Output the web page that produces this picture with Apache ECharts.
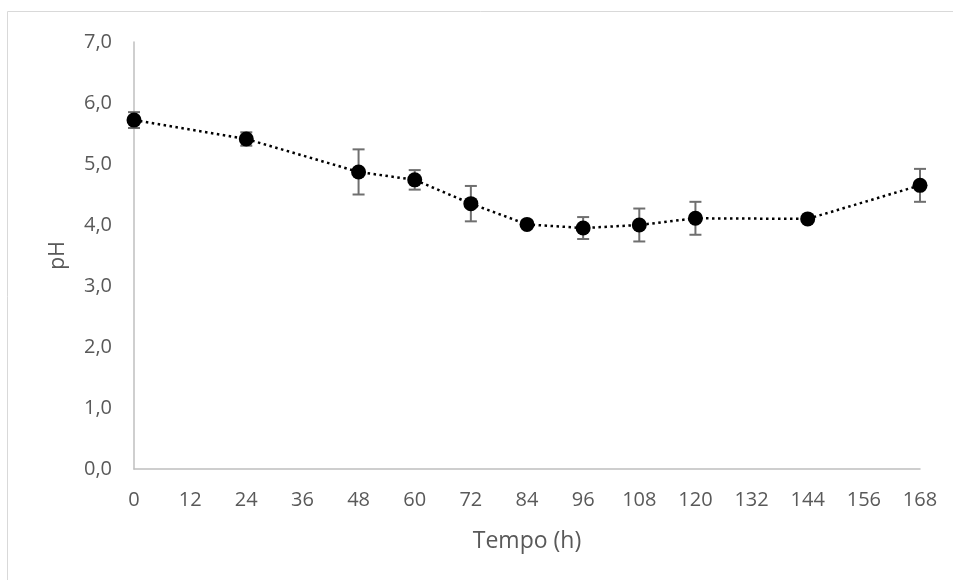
<!DOCTYPE html>
<html>
<head>
<meta charset="utf-8">
<script src="https://cdn.jsdelivr.net/npm/echarts@6/dist/echarts.min.js"></script>
<style>
    html, body { margin: 0; padding: 0; background: #fff; }
    #main { width: 953px; height: 580px; }
</style>
</head>
<body>
<div id="main"></div>
<script>
    // tempo (h), pH medio e desvio
    var tempo = [0, 24, 48, 60, 72, 84, 96, 108, 120, 144, 168];
    var ph = [5.72, 5.41, 4.87, 4.74, 4.35, 4.01, 3.95, 4.00, 4.11, 4.10, 4.65];
    var desvio = [0.13, 0.11, 0.37, 0.16, 0.29, 0.04, 0.18, 0.27, 0.27, 0.03, 0.27];

    var linha = tempo.map(function (t, i) { return [t, ph[i]]; });
    var barras = tempo.map(function (t, i) { return [t, ph[i] - desvio[i], ph[i] + desvio[i]]; });

    var labelColor = '#595959';
    var font = 'Open Sans';

    var chart = echarts.init(document.getElementById('main'));
    var option = {
        animation: false,
        textStyle: { fontFamily: font },
        graphic: [{
            type: 'rect',
            shape: { x: 7.5, y: 11.5, width: 1000, height: 1000 },
            style: { fill: 'none', stroke: '#d9d9d9', lineWidth: 1 },
            silent: true
        }],
        grid: { left: 134, right: 33, top: 42, bottom: 111 },
        xAxis: {
            type: 'value',
            min: 0,
            max: 168,
            interval: 12,
            name: 'Tempo (h)',
            nameLocation: 'middle',
            nameGap: 61,
            nameTextStyle: { color: labelColor, fontSize: 23, fontFamily: font },
            axisLine: { show: true, lineStyle: { color: '#bfbfbf', width: 1.5 } },
            axisTick: { show: false },
            splitLine: { show: false },
            axisLabel: { color: labelColor, fontSize: 20, margin: 21, fontFamily: font }
        },
        yAxis: {
            type: 'value',
            min: 0,
            max: 7,
            interval: 1,
            name: 'pH',
            nameLocation: 'middle',
            nameGap: 65,
            nameRotate: 90,
            nameTextStyle: { color: labelColor, fontSize: 21, fontFamily: font },
            axisLine: { show: true, lineStyle: { color: '#bfbfbf', width: 1.5 } },
            axisTick: { show: false },
            splitLine: { show: false },
            axisLabel: {
                color: labelColor, fontSize: 20, margin: 22, fontFamily: font,
                formatter: function (v) { return v.toFixed(1).replace('.', ','); }
            }
        },
        series: [
            {
                type: 'custom',
                data: barras,
                z: 1,
                renderItem: function (params, api) {
                    var x = api.value(0);
                    var lo = api.coord([x, api.value(1)]);
                    var hi = api.coord([x, api.value(2)]);
                    var w = 6;
                    var st = { stroke: '#6f6f6f', lineWidth: 2, fill: 'none' };
                    return {
                        type: 'group',
                        children: [
                            { type: 'line', shape: { x1: hi[0], y1: hi[1], x2: lo[0], y2: lo[1] }, style: st },
                            { type: 'line', shape: { x1: hi[0] - w, y1: hi[1], x2: hi[0] + w, y2: hi[1] }, style: st },
                            { type: 'line', shape: { x1: lo[0] - w, y1: lo[1], x2: lo[0] + w, y2: lo[1] }, style: st }
                        ]
                    };
                }
            },
            {
                type: 'line',
                data: linha,
                z: 2,
                symbol: 'circle',
                symbolSize: 15,
                itemStyle: { color: '#000' },
                lineStyle: { color: '#000', width: 2.5, type: [2.5, 3.5] }
            }
        ]
    };
    chart.setOption(option);
</script>
</body>
</html>
